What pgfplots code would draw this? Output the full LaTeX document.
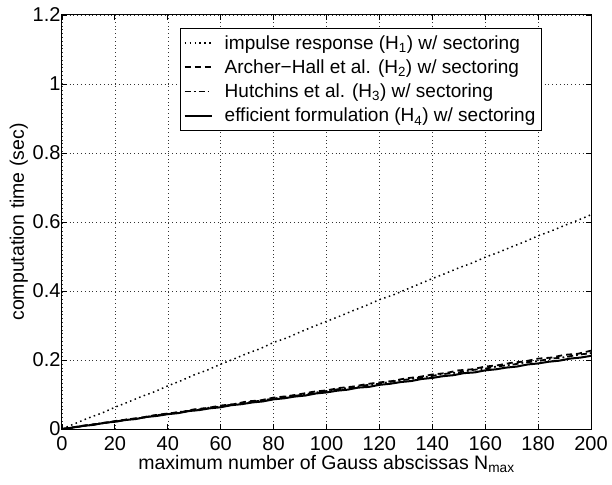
\documentclass[border=0pt]{standalone}
\usepackage{pgfplots}
\pgfplotsset{compat=1.18}
\usepackage{fontspec}
\setmainfont{Liberation Sans}
\begin{document}
\begin{tikzpicture}
\useasboundingbox (-62pt,-55pt) rectangle (550pt,429pt);
\begin{axis}[
  at={(0pt,0pt)}, anchor=south west,
  scale only axis, width=529pt, height=414pt,
  xmin=0, xmax=200, ymin=0, ymax=1.2,
  xtick={0,20,...,200}, ytick={0,0.2,0.4,0.6,0.8,1,1.2},
  yticklabel style={/pgf/number format/fixed},
  /pgf/number format/assume math mode=true,
  tick label style={font=\fontsize{20}{22}\selectfont},
  label style={font=\fontsize{19.5}{22}\selectfont},
  xlabel={maximum number of Gauss abscissas N\textsubscript{max}},
  ylabel={computation time (sec)},
  xlabel style={at={(axis description cs:0.5,0)}, anchor=base, yshift=-40.5pt, inner sep=0.3pt},
  ylabel style={yshift=-2pt},
  grid=major,
  major grid style={black!80, line width=0.5pt, dash pattern=on 0.6pt off 3.2pt},
  tick align=inside, major tick length=5pt,
  tick style={black, line width=0.8pt},
  axis line style={line width=1pt},
  xticklabel style={anchor=base, yshift=-21pt, inner sep=0.3pt},
  yticklabel style={xshift=2pt},
  legend cell align=left,
  legend style={at={(0.907,0.969)}, anchor=north east, draw=black, line width=0.9pt,
    font=\fontsize{19}{22}\selectfont, row sep=5pt, column sep=9pt,
    inner xsep=3pt, inner ysep=5pt, nodes={inner xsep=3pt}},
  legend image code/.code={\draw[#1] (6pt,0pt) -- (33pt,0pt);},
]
\addplot[black, line width=1.5pt, dash pattern=on 1.5pt off 3.4pt] coordinates {
(0,0.000) (5,0.016) (10,0.032) (15,0.046) (20,0.063) (25,0.078) (30,0.094) (35,0.108)
(40,0.125) (45,0.140) (50,0.157) (55,0.171) (60,0.188) (65,0.203) (70,0.219) (75,0.233)
(80,0.251) (85,0.264) (90,0.281) (95,0.297) (100,0.312) (105,0.327) (110,0.343) (115,0.358)
(120,0.375) (125,0.388) (130,0.404) (135,0.420) (140,0.436) (145,0.451) (150,0.467) (155,0.481)
(160,0.498) (165,0.512) (170,0.528) (175,0.543) (180,0.560) (185,0.574) (190,0.590) (195,0.605)
(200,0.621)};
\addlegendentry{impulse response (H\textsubscript{1}) w/ sectoring}
\addplot[black, line width=1.8pt, dash pattern=on 6pt off 4pt] coordinates {
(0,0.000) (5,0.006) (10,0.012) (15,0.016) (20,0.023) (25,0.028) (30,0.033) (35,0.040)
(40,0.045) (45,0.049) (50,0.057) (55,0.061) (60,0.068) (65,0.072) (70,0.080) (75,0.083)
(80,0.091) (85,0.095) (90,0.101) (95,0.108) (100,0.112) (105,0.119) (110,0.123) (115,0.130)
(120,0.135) (125,0.139) (130,0.147) (135,0.151) (140,0.158) (145,0.162) (150,0.170) (155,0.173)
(160,0.181) (165,0.185) (170,0.192) (175,0.196) (180,0.204) (185,0.207) (190,0.215) (195,0.218)
(200,0.227)};
\addlegendentry{Archer\textminus Hall et al. (H\textsubscript{2}) w/ sectoring}
\addplot[black, line width=1.8pt, dash pattern=on 6pt off 3pt on 1.8pt off 3pt] coordinates {
(0,0.000) (5,0.005) (10,0.011) (15,0.017) (20,0.021) (25,0.028) (30,0.032) (35,0.039)
(40,0.044) (45,0.050) (50,0.054) (55,0.061) (60,0.065) (65,0.072) (70,0.077) (75,0.082)
(80,0.088) (85,0.094) (90,0.098) (95,0.105) (100,0.110) (105,0.116) (110,0.120) (115,0.127)
(120,0.131) (125,0.138) (130,0.143) (135,0.148) (140,0.154) (145,0.160) (150,0.164) (155,0.171)
(160,0.175) (165,0.182) (170,0.186) (175,0.193) (180,0.197) (185,0.204) (190,0.208) (195,0.215)
(200,0.220)};
\addlegendentry{Hutchins et al. (H\textsubscript{3}) w/ sectoring}
\addplot[black, line width=2pt] coordinates {
(0,0.000) (4,0.004) (8,0.009) (12,0.012) (16,0.018) (20,0.021) (24,0.026) (28,0.029)
(32,0.035) (36,0.038) (40,0.043) (44,0.046) (48,0.052) (52,0.055) (56,0.060) (60,0.063)
(64,0.069) (68,0.072) (72,0.077) (76,0.080) (80,0.086) (84,0.089) (88,0.094) (92,0.097)
(96,0.103) (100,0.106) (104,0.111) (108,0.114) (112,0.120) (116,0.122) (120,0.128) (124,0.131)
(128,0.136) (132,0.139) (136,0.145) (140,0.148) (144,0.153) (148,0.156) (152,0.162) (156,0.164)
(160,0.170) (164,0.173) (168,0.178) (172,0.181) (176,0.187) (180,0.190) (184,0.195) (188,0.198)
(192,0.204) (196,0.207) (200,0.212)};
\addlegendentry{efficient formulation (H\textsubscript{4}) w/ sectoring}
\end{axis}
\end{tikzpicture}
\end{document}
